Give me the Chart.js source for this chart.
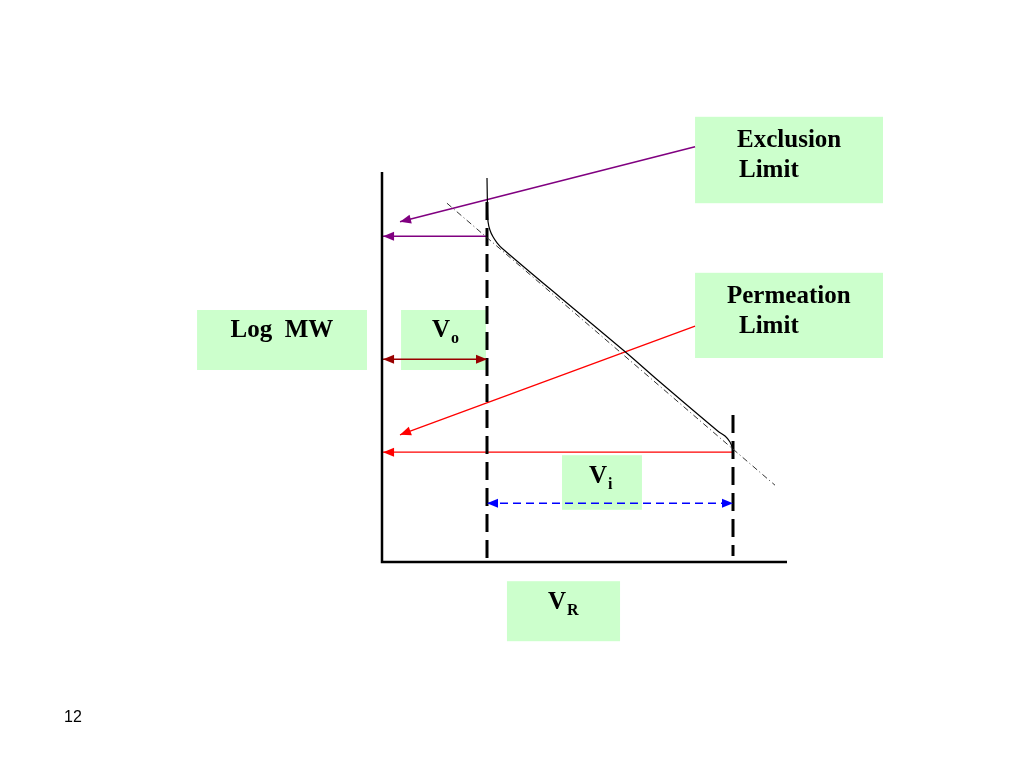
<!DOCTYPE html>
<html lang="en">
<head>
<meta charset="UTF-8" />
<title>Size Exclusion Calibration</title>
<script src="https://cdn.jsdelivr.net/npm/chart.js"></script>
<style>
    body { margin: 0; background: #fff; }
    .wrap { width: 1024px; height: 768px; position: relative; }
    .page-no {
        position: absolute; left: 64px; top: 708px;
        font: 16px "Liberation Sans", Arial, sans-serif; color: #000;
    }
</style>
</head>
<body>
<div class="wrap">
    <canvas id="chart"></canvas>
    <div class="page-no">12</div>
</div>
<script>
// calibration curve: retention volume (x) vs log MW (y)
const curveX = [7.0, 7.03, 7.07, 7.2, 7.4, 7.67, 8.0, 12.07, 16.33, 18.53, 22.4, 22.87, 23.2, 23.37, 23.4];
const curveY = [6.4, 5.95, 5.67, 5.53, 5.42, 5.32, 5.23, 4.37, 3.48, 3.0, 2.18, 2.1, 2.0, 1.88, 1.73];
// linear fit extended past both limits
const fitX = [4.33, 26.2];
const fitY = [5.98, 1.28];

const voidVolume = 7.0;      // Vo
const totalVolume = 23.4;    // Vo + Vi
const exclusionLogMW = 5.43;
const permeationLogMW = 1.83;
const voArrowY = 3.38;
const viArrowY = 0.98;
const axisMaxX = 27;
const axisMaxY = 6.5;

// pointers from the label boxes: [from, to]
const exclusionPointer = [[20.87, 6.92], [1.2, 5.67]];
const permeationPointer = [[20.87, 3.93], [1.2, 2.12]];

// label boxes (data coords) and their texts
const boxes = [
    { x1: 20.87, x2: 33.4, y1: 7.42, y2: 5.98 },
    { x1: 20.87, x2: 33.4, y1: 4.82, y2: 3.4 },
    { x1: -12.33, x2: -1.0, y1: 4.2, y2: 3.2 },
    { x1: 1.27, x2: 6.93, y1: 4.2, y2: 3.2 },
    { x1: 12.0, x2: 17.33, y1: 1.78, y2: 0.87 },
    { x1: 8.33, x2: 15.87, y1: -0.32, y2: -1.32 }
];
const labels = [
    { text: 'Exclusion', x: 23.67, y: 7.03, align: 'left' },
    { text: 'Limit', x: 23.8, y: 6.53, align: 'left' },
    { text: 'Permeation', x: 23.0, y: 4.43, align: 'left' },
    { text: 'Limit', x: 23.8, y: 3.93, align: 'left' },
    { text: 'Log  MW', x: -6.67, y: 3.85, align: 'center' },
    { text: 'V', x: 3.33, y: 3.85, align: 'left', sub: 'o' },
    { text: 'V', x: 13.8, y: 1.42, align: 'left', sub: 'i' },
    { text: 'V', x: 11.07, y: -0.68, align: 'left', sub: 'R' }
];

const pts = (xs, ys) => xs.map((x, i) => ({ x: x, y: ys[i] }));
const seg = (a, b) => [{ x: a[0], y: a[1] }, { x: b[0], y: b[1] }];
const axisEnd = 0.07;

function line(data, color, width, extra) {
    return Object.assign({
        data: data, borderColor: color, borderWidth: width,
        pointRadius: 0, fill: false, clip: false, tension: 0
    }, extra || {});
}

const datasets = [
    line([{ x: 0, y: axisMaxY }, { x: 0, y: 0 }, { x: axisMaxX, y: 0 }], '#000', 2.5),
    line(pts(fitX, fitY), '#333', 1, { borderDash: [6, 3, 1, 3] }),
    line(pts(curveX, curveY), '#000', 1.2, { tension: 0.3 }),
    line(seg([voidVolume, 6.0], [voidVolume, 0]), '#000', 3, { borderDash: [18, 8] }),
    line(seg([totalVolume, 2.45], [totalVolume, 0.1]), '#000', 3, { borderDash: [18, 8] }),
    line(seg(exclusionPointer[0], exclusionPointer[1]), '#800080', 1.5, { arrowEnds: 'end' }),
    line(seg([voidVolume, exclusionLogMW], [axisEnd, exclusionLogMW]), '#800080', 1.5, { arrowEnds: 'end' }),
    line(seg([axisEnd, voArrowY], [voidVolume, voArrowY]), '#990000', 1.5, { arrowEnds: 'both' }),
    line(seg(permeationPointer[0], permeationPointer[1]), '#ff0000', 1.3, { arrowEnds: 'end' }),
    line(seg([totalVolume, permeationLogMW], [axisEnd, permeationLogMW]), '#ff0000', 1.3, { arrowEnds: 'end' }),
    line(seg([voidVolume, viArrowY], [totalVolume, viArrowY]), '#0000ff', 1.5, { arrowEnds: 'both', borderDash: [8, 5] })
];

function drawHead(ctx, tip, from, color) {
    const dx = tip.x - from.x, dy = tip.y - from.y;
    const len = Math.hypot(dx, dy) || 1;
    const ux = dx / len, uy = dy / len;
    const L = 11, W = 4.5;
    ctx.fillStyle = color;
    ctx.beginPath();
    ctx.moveTo(tip.x, tip.y);
    ctx.lineTo(tip.x - ux * L - uy * W, tip.y - uy * L + ux * W);
    ctx.lineTo(tip.x - ux * L + uy * W, tip.y - uy * L - ux * W);
    ctx.closePath();
    ctx.fill();
}

const arrowPlugin = {
    id: 'arrowHeads',
    afterDatasetsDraw(chart) {
        const ctx = chart.ctx;
        chart.data.datasets.forEach((ds, i) => {
            if (!ds.arrowEnds) return;
            const p = chart.getDatasetMeta(i).data;
            const a = p[0], b = p[p.length - 1];
            ctx.save();
            drawHead(ctx, b, a, ds.borderColor);
            if (ds.arrowEnds === 'both') drawHead(ctx, a, b, ds.borderColor);
            ctx.restore();
        });
    }
};

const boxPlugin = {
    id: 'labelBoxes',
    beforeDatasetsDraw(chart) {
        const ctx = chart.ctx, sx = chart.scales.x, sy = chart.scales.y;
        ctx.save();
        ctx.fillStyle = '#ccffcc';
        boxes.forEach(b => {
            const x1 = sx.getPixelForValue(b.x1), x2 = sx.getPixelForValue(b.x2);
            const y1 = sy.getPixelForValue(b.y1), y2 = sy.getPixelForValue(b.y2);
            ctx.fillRect(x1, y1, x2 - x1, y2 - y1);
        });
        ctx.fillStyle = '#000';
        ctx.textBaseline = 'middle';
        labels.forEach(l => {
            const x = sx.getPixelForValue(l.x), y = sy.getPixelForValue(l.y);
            ctx.font = 'bold 25px "Liberation Serif", "Times New Roman", serif';
            ctx.textAlign = l.align;
            ctx.fillText(l.text, x, y);
            if (l.sub) {
                const w = ctx.measureText(l.text).width;
                ctx.font = 'bold 16px "Liberation Serif", "Times New Roman", serif';
                ctx.textAlign = 'left';
                ctx.fillText(l.sub, x + w + 1, y + 8);
            }
        });
        ctx.restore();
    }
};

new Chart(document.getElementById('chart'), {
    type: 'line',
    data: { datasets: datasets },
    options: {
        responsive: true,
        maintainAspectRatio: false,
        animation: false,
        events: [],
        layout: { padding: { left: 382, top: 172, right: 237, bottom: 206 } },
        plugins: { legend: { display: false }, tooltip: { enabled: false } },
        scales: {
            x: { type: 'linear', display: false, min: 0, max: axisMaxX },
            y: { type: 'linear', display: false, min: 0, max: axisMaxY }
        }
    },
    plugins: [boxPlugin, arrowPlugin]
});
</script>
</body>
</html>
